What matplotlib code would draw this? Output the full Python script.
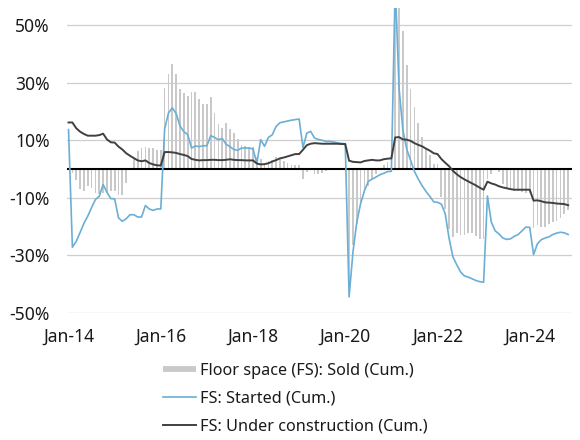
import numpy as np
import matplotlib
matplotlib.use('Agg')
import matplotlib.pyplot as plt
import matplotlib.ticker as mtick
from matplotlib.lines import Line2D

plt.rcParams['font.family'] = ['Noto Sans', 'DejaVu Sans']
plt.rcParams['axes.unicode_minus'] = False

# monthly, Jan-14 .. Nov-24 (January repeats the previous December)
sold = [
    0.0, -1.5, -3.8, -6.8, -7.8, -6.0, -6.7, -8.3, -8.6, -8.3, -8.2, -7.6,
    -7.6, -9.0, -9.2, -4.8, -0.2, 3.9, 6.1, 7.2, 7.5, 7.2, 7.4, 6.5,
    6.5, 28.2, 33.1, 36.5, 33.2, 27.9, 26.4, 25.5, 26.9, 26.8, 24.3, 22.5,
    22.5, 25.1, 19.5, 15.7, 14.3, 16.1, 14.0, 12.7, 10.3, 8.2, 7.9, 7.7,
    7.7, 4.1, 3.6, 1.3, 2.9, 3.3, 4.2, 4.0, 2.9, 2.2, 1.4, 1.3,
    1.3, -3.6, -0.9, -0.3, -1.6, -1.8, -1.3, -0.6, -0.1, 0.1, 0.2, -0.1,
    -0.1, -39.9, -26.3, -19.3, -12.3, -8.4, -5.8, -3.3, -1.8, 0.0, 1.3, 2.6,
    2.6, 104.9, 63.8, 48.1, 36.3, 27.7, 21.5, 15.9, 11.3, 7.3, 4.8, 1.9,
    1.9, -9.6, -13.8, -20.9, -23.6, -22.2, -23.1, -23.0, -22.2, -22.3, -23.3, -24.3,
    -24.3, -3.6, -1.8, -0.4, -0.9, -5.3, -6.5, -7.1, -7.5, -7.8, -8.0, -8.5,
    -8.5, -20.5, -19.4, -20.2, -20.3, -19.0, -18.6, -18.0, -17.1, -15.8, -14.3,
]

started = [
    13.7, -27.2, -25.2, -22.1, -18.9, -16.4, -13.4, -10.6, -9.5, -5.4, -8.1, -10.3,
    -10.4, -17.0, -18.2, -17.3, -15.9, -15.9, -16.7, -16.7, -12.7, -13.9, -14.4, -13.9,
    -13.9, 13.9, 19.5, 21.3, 19.3, 15.0, 13.0, 12.0, 7.3, 8.0, 7.8, 8.1,
    8.1, 11.6, 11.0, 10.2, 10.6, 8.6, 7.8, 6.8, 6.5, 7.3, 7.3, 7.3,
    7.0, 2.0, 10.2, 7.9, 11.0, 11.9, 14.8, 16.1, 16.4, 16.7, 17.0, 17.2,
    17.4, 7.5, 12.5, 13.1, 10.8, 10.3, 10.0, 9.6, 9.6, 9.4, 9.1, 8.9,
    8.8, -44.5, -29.0, -18.5, -12.0, -7.5, -4.3, -3.5, -2.8, -2.0, -1.5, -0.9,
    -0.8, 64.3, 28.2, 13.5, 6.9, 3.0, -0.8, -3.5, -5.8, -7.8, -9.5, -11.4,
    -11.6, -12.2, -15.5, -24.0, -30.5, -33.3, -35.8, -37.2, -37.6, -38.2, -38.8, -39.2,
    -39.4, -9.4, -18.5, -21.5, -22.6, -24.0, -24.5, -24.3, -23.4, -22.8, -21.5, -20.2,
    -20.3, -29.8, -26.0, -24.6, -24.0, -23.6, -22.8, -22.3, -22.0, -22.2, -22.8,
]

under_construction = [
    16.2, 16.2, 14.2, 13.0, 12.2, 11.6, 11.6, 11.6, 11.8, 12.3, 10.3, 9.3,
    9.2, 7.8, 6.8, 5.5, 4.6, 3.8, 3.0, 2.7, 3.0, 2.1, 1.6, 1.3,
    1.2, 5.9, 5.9, 5.8, 5.6, 5.2, 4.9, 4.5, 3.5, 3.2, 3.0, 3.1,
    3.1, 3.2, 3.2, 3.1, 3.1, 3.2, 3.4, 3.2, 3.1, 3.1, 3.0, 3.0,
    3.0, 1.9, 1.6, 1.7, 2.0, 2.6, 3.1, 3.7, 4.0, 4.4, 4.8, 5.2,
    5.2, 6.7, 8.3, 8.8, 9.0, 8.9, 8.8, 8.8, 8.8, 8.8, 8.8, 8.7,
    8.7, 2.9, 2.5, 2.4, 2.3, 2.8, 3.0, 3.2, 3.0, 3.0, 3.4, 3.6,
    3.7, 11.0, 11.1, 10.3, 10.2, 9.8, 9.0, 8.4, 7.9, 7.1, 6.4, 5.5,
    5.2, 3.5, 2.2, 1.0, -0.6, -1.8, -2.8, -3.6, -4.3, -5.0, -5.7, -6.5,
    -7.2, -4.4, -5.0, -5.4, -6.0, -6.4, -6.7, -7.0, -7.2, -7.2, -7.2, -7.2,
    -7.2, -11.0, -10.9, -11.2, -11.6, -11.7, -11.8, -12.0, -12.1, -12.2, -12.6,
]

tick_years = ['14', '16', '18', '20', '22', '24']
y_ticks = [50, 30, 10, -10, -30, -50]

months = np.arange(len(sold))
bar_col = '#c9c9c9'
blue = '#6baed6'
dark = '#404040'

fig = plt.figure(figsize=(5.8, 4.4), dpi=100)
ax = fig.add_axes([67 / 580, 1 - 312.7 / 440, 505 / 580, (312.7 - 8.1) / 440])

ax.bar(months, sold, width=0.45, color=bar_col, linewidth=0, zorder=2)
ax.axhline(0, color='black', linewidth=1.5, zorder=3)
ax.plot(months, started, color=blue, linewidth=1.2, zorder=4)
ax.plot(months, under_construction, color=dark, linewidth=1.4, zorder=5)

ax.set_xlim(-0.4, 131)
ax.set_ylim(-50, 56)
ax.set_yticks(y_ticks)
ax.yaxis.set_major_formatter(mtick.PercentFormatter(decimals=0))
ax.set_xticks(np.arange(0, 121, 24))
ax.set_xticklabels(['Jan-' + y for y in tick_years])
ax.grid(True, axis='y', color='#cfcfcf', linewidth=0.9, zorder=0)
ax.set_axisbelow(True)
for s in ax.spines.values():
    s.set_visible(False)
ax.tick_params(axis='both', length=0, labelsize=12.6, colors='#1a1a1a')
ax.tick_params(axis='y', pad=12.5)
ax.tick_params(axis='x', pad=11)

handles = [
    Line2D([], [], color=bar_col, linewidth=4.2, solid_capstyle='butt'),
    Line2D([], [], color=blue, linewidth=1.2),
    Line2D([], [], color=dark, linewidth=1.4),
]
labels = ['Floor space (FS): Sold (Cum.)', 'FS: Started (Cum.)',
          'FS: Under construction (Cum.)']
fig.legend(handles, labels, loc='upper left',
           bbox_to_anchor=(163 / 580, 1 - 362.5 / 440),
           frameon=False, fontsize=11.7, borderpad=0, borderaxespad=0,
           handlelength=2.0, handletextpad=0.3, labelspacing=0.73,
           labelcolor='#1a1a1a')

fig.savefig('out.png', dpi=100)
